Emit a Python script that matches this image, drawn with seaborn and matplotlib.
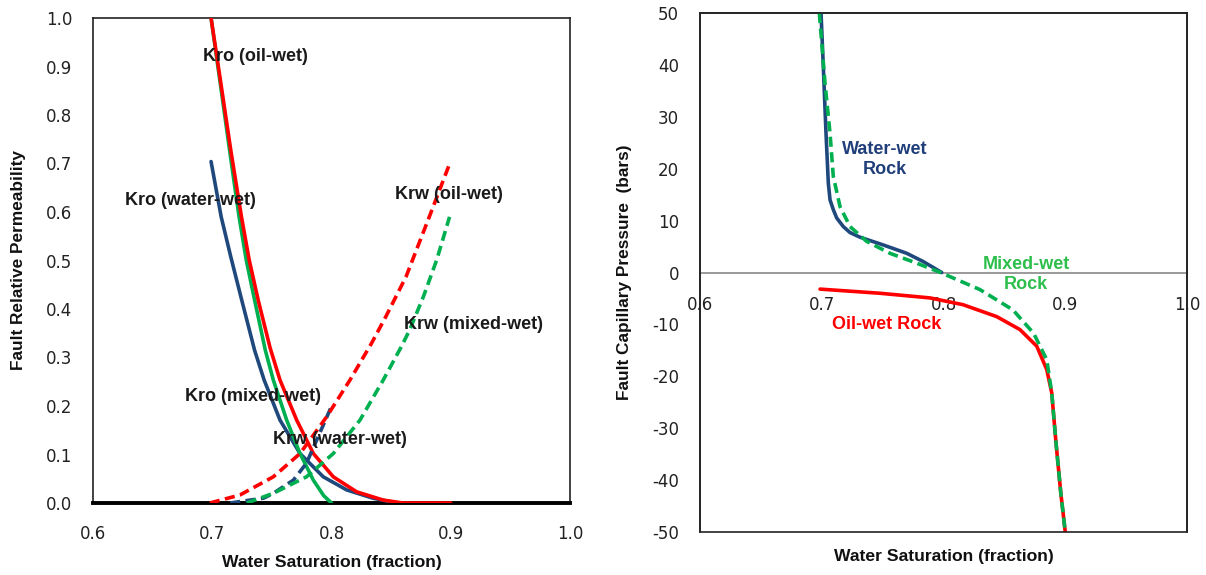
import matplotlib
matplotlib.use("Agg")
import matplotlib.pyplot as plt
import seaborn as sns
import pandas as pd
from matplotlib.patches import Rectangle

# ---------------- data: relative permeability (left) ----------------
kro_oil_sw = [0.699, 0.707, 0.7155, 0.7245, 0.731, 0.7385, 0.7485, 0.7568, 0.7708, 0.7848, 0.8015,
              0.8211, 0.8434, 0.860, 0.900]
kro_oil_k = [1.00, 0.869, 0.728, 0.590, 0.501, 0.4186, 0.320, 0.2536, 0.171, 0.102, 0.054,
             0.023, 0.006, 0.0, 0.0]

kro_mixed_sw = [0.699, 0.7065, 0.7145, 0.7225, 0.7285, 0.7355, 0.7445, 0.7512, 0.7624, 0.7736, 0.7848,
                0.7935, 0.800]
kro_mixed_k = [1.00, 0.869, 0.728, 0.590, 0.501, 0.4186, 0.315, 0.2536, 0.171, 0.102, 0.047,
               0.015, 0.0]

kro_water_sw = [0.699, 0.7075, 0.7155, 0.7247, 0.7355, 0.7435, 0.7568, 0.7736, 0.7931, 0.8127, 0.835, 0.8546]
kro_water_k = [0.704, 0.590, 0.508, 0.4186, 0.315, 0.2536, 0.171, 0.102, 0.054, 0.027, 0.0097, 0.0]

krw_oil_sw = [0.698, 0.7232, 0.7512, 0.7736, 0.796, 0.8155, 0.8335, 0.8455, 0.8625, 0.882, 0.8994]
krw_oil_k = [0.0, 0.0165, 0.054, 0.102, 0.178, 0.2536, 0.329, 0.384, 0.4666, 0.590, 0.7017]

krw_mixed_sw = [0.729, 0.7512, 0.779, 0.8015, 0.8239, 0.8434, 0.8585, 0.8655, 0.877, 0.8882, 0.899]
krw_mixed_k = [0.0, 0.020, 0.054, 0.102, 0.171, 0.2536, 0.322, 0.3567, 0.425, 0.501, 0.59]

krw_water_sw = [0.715, 0.743, 0.7512, 0.768, 0.779, 0.7876, 0.7987, 0.800]
krw_water_k = [0.0, 0.010, 0.020, 0.047, 0.082, 0.130, 0.192, 0.200]

# ---------------- data: capillary pressure (right) ----------------
pc_water_sw = [0.6994, 0.7013, 0.7035, 0.7054, 0.7068, 0.7095, 0.7123, 0.7177, 0.7232, 0.7314, 0.7506,
               0.7698, 0.7834, 0.7985]
pc_water_p = [50, 39.6, 26.8, 17.2, 14.0, 12.1, 10.5, 8.85, 7.7, 6.8, 5.3, 3.7, 2.1, 0]

pc_mixed_sw = [0.698, 0.7027, 0.7068, 0.7095, 0.715, 0.7232, 0.7369, 0.756, 0.778, 0.7975, 0.830, 0.857,
               0.874, 0.8848, 0.8889, 0.8924, 0.8963, 0.900]
pc_mixed_p = [50, 36.4, 26.8, 18.5, 12.7, 8.85, 6.0, 3.7, 1.8, 0, -3.3, -7.2,
              -11.7, -16.8, -23.2, -32.8, -42.4, -50]

pc_oil_sw = [0.6986, 0.7478, 0.789, 0.816, 0.8437, 0.8628, 0.8766, 0.8848, 0.8889, 0.8924, 0.8963, 0.900]
pc_oil_p = [-3.2, -4.0, -4.9, -6.2, -8.5, -11.0, -14.2, -18.7, -23.2, -32.8, -42.4, -50]

x_ticks = [0.6, 0.7, 0.8, 0.9, 1.0]
kr_ticks = [0.0, 0.1, 0.2, 0.3, 0.4, 0.5, 0.6, 0.7, 0.8, 0.9, 1.0]
pc_ticks = [-50, -40, -30, -20, -10, 0, 10, 20, 30, 40, 50]

RED = "#FF0000"
NAVY = "#1F497D"
GREEN = "#00B050"
GREEN_TXT = "#2DBE4B"
NAVY_TXT = "#1F3E7A"

sns.set_theme(style="white")
plt.rcParams["font.family"] = ["Liberation Sans", "DejaVu Sans"]

fig = plt.figure(figsize=(12.06, 5.75), dpi=100)
ax1 = fig.add_axes([93 / 1206, (575 - 503) / 575, (570 - 93) / 1206, (503 - 18) / 575])
ax2 = fig.add_axes([700 / 1206, (575 - 532) / 575, (1187 - 700) / 1206, (532 - 13) / 575])

LW = 2.6
DASH = (2.8, 1.5)
TICK_FONT = ["DejaVu Sans"]
TICK_SIZE = 12


def draw(ax, xs, ys, color, dashed=False, zorder=3):
    df = pd.DataFrame({"x": xs, "y": ys})
    sns.lineplot(data=df, x="x", y="y", ax=ax, color=color, lw=LW, sort=False,
                 estimator=None, zorder=zorder)
    ln = ax.lines[-1]
    ln.set_solid_capstyle("round")
    ln.set_solid_joinstyle("round")
    if dashed:
        ln.set_linestyle((0, DASH))
        ln.set_dash_capstyle("butt")


# ---- left panel ----
draw(ax1, kro_water_sw, kro_water_k, NAVY)
draw(ax1, kro_mixed_sw, kro_mixed_k, GREEN)
draw(ax1, kro_oil_sw, kro_oil_k, RED)
draw(ax1, krw_water_sw, krw_water_k, NAVY, dashed=True)
draw(ax1, krw_mixed_sw, krw_mixed_k, GREEN, dashed=True)
draw(ax1, krw_oil_sw, krw_oil_k, RED, dashed=True)

ax1.set_xlim(0.6, 1.0)
ax1.set_ylim(0.0, 1.0)
ax1.set_xticks(x_ticks)
ax1.set_xticklabels([f"{t:.1f}" for t in x_ticks])
ax1.set_yticks(kr_ticks)
ax1.set_yticklabels([f"{t:.1f}" for t in kr_ticks])
for s in ax1.spines.values():
    s.set_color("#222222")
    s.set_linewidth(1.2)
ax1.spines["bottom"].set_linewidth(2.8)
ax1.spines["bottom"].set_color("black")
ax1.tick_params(length=0, labelsize=TICK_SIZE, colors="#222222")
ax1.tick_params(axis="x", pad=16)
ax1.tick_params(axis="y", pad=15)
for lab in ax1.get_xticklabels() + ax1.get_yticklabels():
    lab.set_fontfamily(TICK_FONT)
ax1.set_xlabel("Water Saturation (fraction)", fontsize=12.6, fontweight="bold", color="#111111")
ax1.xaxis.label.set_va("center")
ax1.xaxis.set_label_coords(0.5, -(562 - 503) / 485)
ax1.set_ylabel("Fault Relative Permeability", fontsize=12.4, fontweight="bold", color="#111111")
ax1.yaxis.label.set_va("center")
ax1.yaxis.set_label_coords(-(93 - 19) / 477, 0.5)

tkw = dict(fontsize=13, fontweight="bold", color="#1a1a1a", ha="center", va="center", zorder=5)
ax1.text(0.7365, 0.92, "Kro (oil-wet)", **tkw)
ax1.text(0.6817, 0.623, "Kro (water-wet)", **tkw)
ax1.text(0.8986, 0.637, "Krw (oil-wet)", **tkw)
ax1.text(0.9187, 0.369, "Krw (mixed-wet)", **tkw)
ax1.text(0.734, 0.219, "Kro (mixed-wet)", **tkw)
ax1.text(0.807, 0.130, "Krw (water-wet)", **tkw)

# ---- right panel ----
draw(ax2, pc_water_sw, pc_water_p, NAVY, zorder=3)
draw(ax2, pc_oil_sw, pc_oil_p, RED, zorder=3)
draw(ax2, pc_mixed_sw, pc_mixed_p, GREEN, dashed=True, zorder=4)

ax2.set_xlim(0.6, 1.0)
ax2.set_ylim(-50, 50)
ax2.set_xticks(x_ticks)
ax2.set_xticklabels([f"{t:.1f}" for t in x_ticks])
ax2.set_yticks(pc_ticks)
ax2.set_yticklabels([str(t) for t in pc_ticks])
for name in ["top", "left", "right"]:
    ax2.spines[name].set_color("#222222")
    ax2.spines[name].set_linewidth(1.2)
ax2.spines["bottom"].set_position(("data", 0))
ax2.spines["bottom"].set_color("#9a9a9a")
ax2.spines["bottom"].set_linewidth(1.4)
ax2.spines["bottom"].set_zorder(2)
ax2.add_patch(Rectangle((0, 0), 1, 1, transform=ax2.transAxes, fill=False,
                        edgecolor="#222222", lw=1.2, zorder=6, clip_on=False))
ax2.tick_params(length=0, labelsize=TICK_SIZE, colors="#222222")
ax2.tick_params(axis="x", pad=17)
ax2.tick_params(axis="y", pad=15)
for lab in ax2.get_xticklabels() + ax2.get_yticklabels():
    lab.set_fontfamily(TICK_FONT)
ax2.set_xlabel("Water Saturation (fraction)", fontsize=12.6, fontweight="bold", color="#111111")
ax2.xaxis.label.set_va("center")
ax2.xaxis.set_label_coords(0.5, -(557 - 532) / 519)
ax2.set_ylabel("Fault Capillary Pressure  (bars)", fontsize=12.4, fontweight="bold", color="#111111")
ax2.yaxis.label.set_va("center")
ax2.yaxis.set_label_coords(-(700 - 625) / 487, 0.5)

ax2.text(0.752, 21.8, "Water-wet\nRock", fontsize=13, fontweight="bold", color=NAVY_TXT,
         ha="center", va="center", linespacing=1.25, zorder=5)
ax2.text(0.868, -0.45, "Mixed-wet\nRock", fontsize=13, fontweight="bold", color=GREEN_TXT,
         ha="center", va="center", linespacing=1.25, zorder=5)
ax2.text(0.753, -10.1, "Oil-wet Rock", fontsize=13, fontweight="bold", color=RED,
         ha="center", va="center", zorder=5)

fig.savefig("out.png", dpi=100)
